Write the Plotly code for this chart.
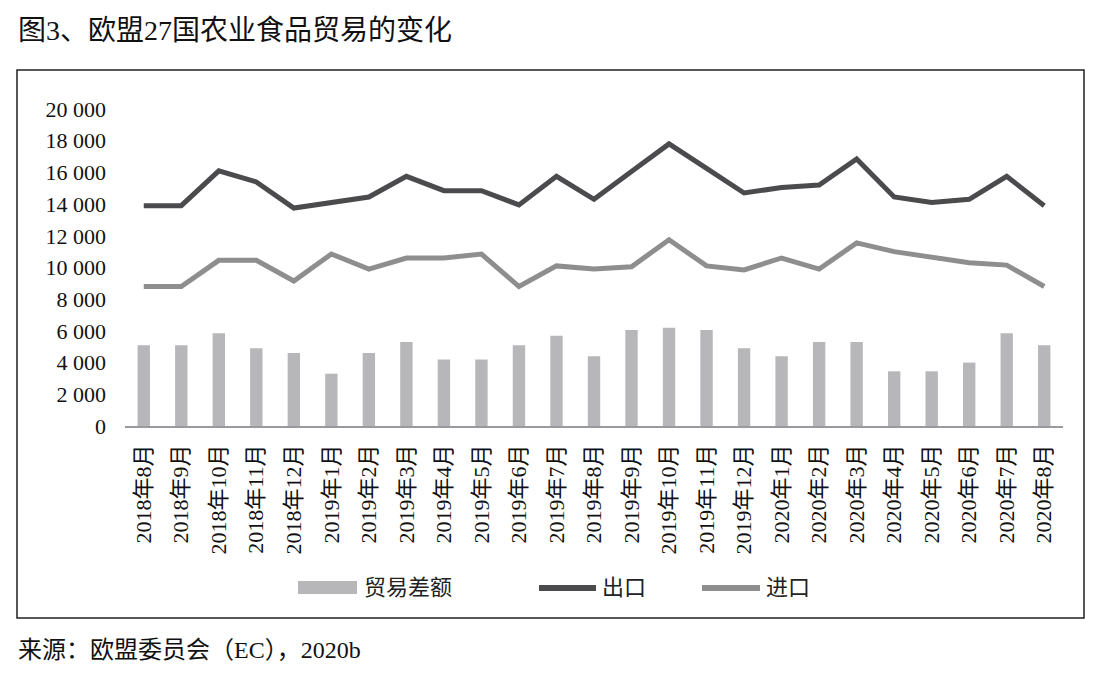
import plotly.graph_objects as go

months = ["2018年8月", "2018年9月", "2018年10月", "2018年11月", "2018年12月",
          "2019年1月", "2019年2月", "2019年3月", "2019年4月", "2019年5月",
          "2019年6月", "2019年7月", "2019年8月", "2019年9月", "2019年10月",
          "2019年11月", "2019年12月", "2020年1月", "2020年2月", "2020年3月",
          "2020年4月", "2020年5月", "2020年6月", "2020年7月", "2020年8月"]

balance = [5100, 5100, 5850, 4900, 4600, 3300, 4600, 5300, 4200, 4200,
           5100, 5700, 4400, 6050, 6200, 6050, 4900, 4400, 5300, 5300,
           3450, 3450, 4000, 5850, 5100]

exports = [13900, 13900, 16100, 15400, 13750, 14100, 14450, 15750, 14850, 14850,
           13950, 15750, 14300, 16050, 17800, 16250, 14700, 15050, 15200, 16850,
           14450, 14100, 14300, 15750, 13900]

imports = [8800, 8800, 10450, 10450, 9150, 10850, 9900, 10600, 10600, 10850,
           8800, 10100, 9900, 10050, 11750, 10100, 9850, 10600, 9900, 11550,
           11000, 10650, 10300, 10150, 8800]

series_names = ["贸易差额", "出口", "进口"]
y_ticks = [0, 2000, 4000, 6000, 8000, 10000, 12000, 14000, 16000, 18000, 20000]
y_tick_text = ["0", "2 000", "4 000", "6 000", "8 000", "10 000", "12 000",
               "14 000", "16 000", "18 000", "20 000"]

title_text = "图3、欧盟27国农业食品贸易的变化"
source_text = "来源：欧盟委员会（EC），2020b"

# page body has an 8px margin; compensate so page pixels match the reference
OFF = 8
W, H = 1098 - OFF, 687 - OFF
L, T = 125 - OFF, 109 - OFF
R, B = 35, 261
PW, PH = W - L - R, H - T - B

def px(x):
    return (x - OFF - L) / PW

def py(y):
    return (H - B - (y - OFF)) / PH

FONT = "Liberation Serif, Noto Sans CJK SC, serif"
BAR_C = "#b7b7b9"
EXP_C = "#4b4b4d"
IMP_C = "#8e8e8f"

fig = go.Figure()
fig.add_trace(go.Bar(x=months, y=balance, name=series_names[0],
                     marker=dict(color=BAR_C, line=dict(width=0)), width=0.33))
fig.add_trace(go.Scatter(x=months, y=exports, name=series_names[1], mode="lines",
                         line=dict(color=EXP_C, width=5)))
fig.add_trace(go.Scatter(x=months, y=imports, name=series_names[2], mode="lines",
                         line=dict(color=IMP_C, width=5)))

shapes = [
    dict(type="rect", xref="paper", yref="paper", x0=px(17), x1=px(1084),
         y0=py(618), y1=py(70), line=dict(color="#222222", width=1.5)),
    dict(type="rect", xref="paper", yref="paper", x0=px(298), x1=px(357),
         y0=py(594), y1=py(581), fillcolor=BAR_C, line=dict(width=0)),
    dict(type="line", xref="paper", yref="paper", x0=px(539), x1=px(596),
         y0=py(588), y1=py(588), line=dict(color=EXP_C, width=6)),
    dict(type="line", xref="paper", yref="paper", x0=px(702), x1=px(760),
         y0=py(588), y1=py(588), line=dict(color=IMP_C, width=6)),
]

annotations = [
    dict(text=title_text, xref="paper", yref="paper", x=px(16), y=py(31),
         xanchor="left", yanchor="middle", showarrow=False,
         font=dict(size=28, color="#111111", family=FONT)),
    dict(text=source_text, xref="paper", yref="paper", x=px(16), y=py(650),
         xanchor="left", yanchor="middle", showarrow=False,
         font=dict(size=24, color="#111111", family=FONT)),
    dict(text=series_names[0], xref="paper", yref="paper", x=px(362), y=py(587),
         xanchor="left", yanchor="middle", showarrow=False,
         font=dict(size=22, color="#222222", family=FONT)),
    dict(text=series_names[1], xref="paper", yref="paper", x=px(600), y=py(587),
         xanchor="left", yanchor="middle", showarrow=False,
         font=dict(size=22, color="#222222", family=FONT)),
    dict(text=series_names[2], xref="paper", yref="paper", x=px(764), y=py(587),
         xanchor="left", yanchor="middle", showarrow=False,
         font=dict(size=22, color="#222222", family=FONT)),
]

fig.update_layout(
    width=W, height=H,
    margin=dict(l=L, r=R, t=T, b=B, autoexpand=False),
    paper_bgcolor="white", plot_bgcolor="white",
    showlegend=False,
    font=dict(family=FONT, color="#111111", size=20),
    shapes=shapes, annotations=annotations,
    xaxis=dict(type="category", range=[-0.5, 24.5], showgrid=False,
               showline=True, linecolor="#9a9a9e", linewidth=1.5,
               ticks="", tickangle=-90, ticklabelstandoff=8,
               tickfont=dict(size=22, family=FONT, color="#111111")),
    yaxis=dict(range=[0, 20000], showgrid=False, zeroline=False, showline=False,
               tickvals=y_ticks, ticktext=y_tick_text, ticks="",
               ticklabelstandoff=18,
               tickfont=dict(size=22, family=FONT, color="#111111")),
)

fig.write_html("out.html")
